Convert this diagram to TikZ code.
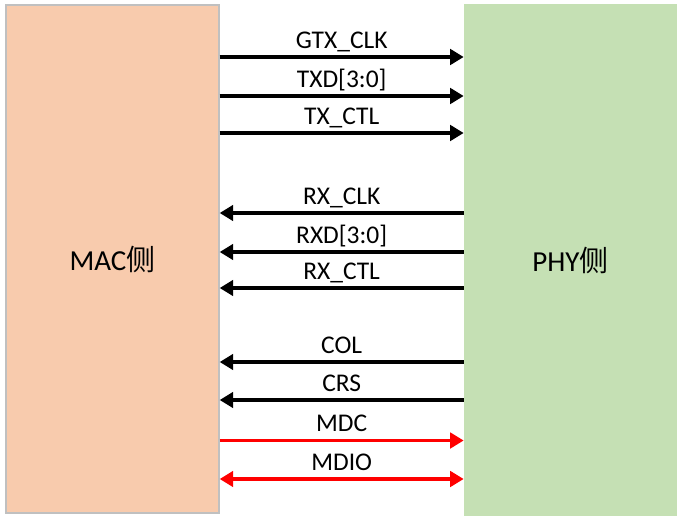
\documentclass[tikz,border=0pt]{standalone}
\usepackage{fontspec}
\setmainfont{Carlito}
\newfontfamily\cjkfont{Noto Sans CJK SC}
\usepackage{xcolor}
\usepackage{tikz}
\usetikzlibrary{
  arrows.meta,
  positioning,
}
\definecolor{macfill}{HTML}{F8CBAD}
\definecolor{phyfill}{HTML}{C5E0B4}
\definecolor{boxline}{HTML}{C0C0C0}

\begin{document}
\begin{tikzpicture}[
  font=\fontsize{14.5}{16}\selectfont,
  side/.style={minimum width=4.26cm, inner sep=0pt,
               font=\fontsize{16.5}{18}\selectfont},
  sig/.style={line width=1.8pt, >={Triangle[length=0.27cm, width=0.31cm]}},
  tx/.style={->},
  rx/.style={<-},
  mdc/.style={->, red},
  mdio/.style={<->, red},
  lbl/.style={above=0.14cm, inner sep=0pt, text depth=0pt, text=black},
]
\useasboundingbox (0,0) rectangle (13.6,10.38);

\node[side, fill=macfill, draw=boxline, line width=0.8pt,
      minimum height=10.16cm] (MAC) at (2.25,5.2) {MAC{\cjkfont 侧}};
\node[side, fill=phyfill, minimum height=10.24cm]
  (PHY) at (11.41,5.18) {PHY{\cjkfont 侧}};

% signals between the two sides
\foreach \y/\name/\kind in
  {9.24/GTX\_CLK/tx, 8.46/TXD[3:0]/tx, 7.72/TX\_CTL/tx,
   6.12/RX\_CLK/rx, 5.34/RXD[3:0]/rx, 4.62/RX\_CTL/rx,
   3.14/COL/rx, 2.38/CRS/rx,
   1.57/MDC/mdc, 0.80/MDIO/mdio}{
  \draw[sig, \kind] (MAC.east |- 0,\y) -- node[lbl] {\name} (PHY.west |- 0,\y);
}

\end{tikzpicture}
\end{document}
